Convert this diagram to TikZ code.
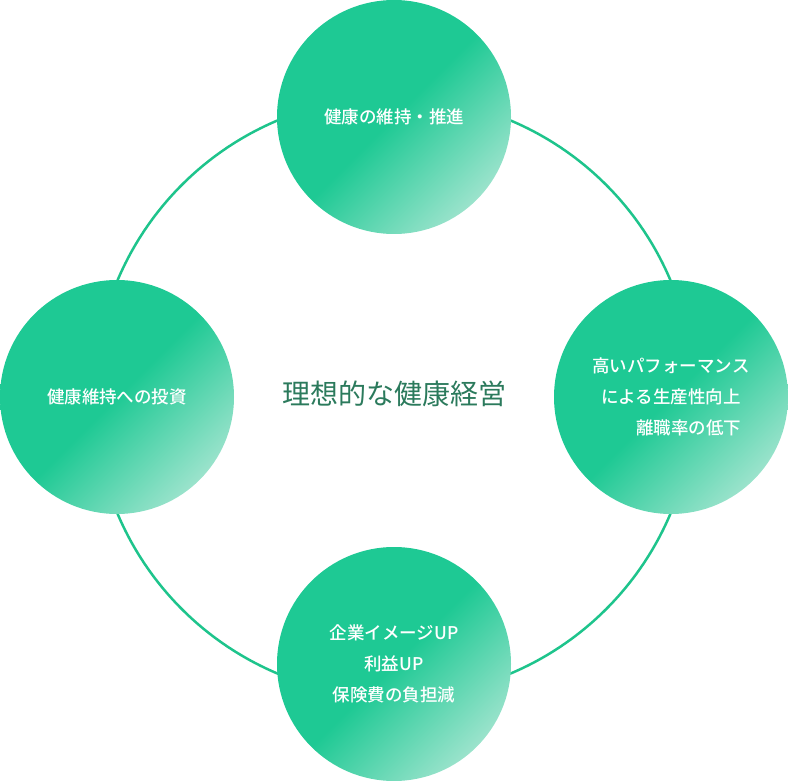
\documentclass[tikz,border=0pt]{standalone}
\usepackage{fontspec}
\setmainfont{Noto Sans CJK JP}[BoldFont={Noto Sans CJK JP Medium}]
\begin{document}
\begin{tikzpicture}[x=1pt,y=-1pt,
  bub/.style={circle,minimum size=234pt,inner sep=0pt,text=white,font=\fontsize{17.5}{31}\selectfont\bfseries,align=center}]
\definecolor{gA}{HTML}{1EC994}
\definecolor{gB}{HTML}{9BE3CC}
\definecolor{ring}{HTML}{1EC48C}
\definecolor{ctext}{HTML}{2B7A5C}
\useasboundingbox (0,0) rectangle (788,781);
\node[circle,minimum size=600pt,draw=ring,line width=2.5pt] (ring) at (394,397) {};
\foreach \n/\x/\y in {t/394/117,l/117/397,r/671/397,b/394/664}{
  \shade[shading=axis,top color=gA,bottom color=gB,middle color=gA,shading angle=45] (\x,\y) circle (117);
}
\node[bub] (t) at (394,117) {健康の維持・推進};
\node[bub] (l) at (117,397) {健康維持への投資};
\node[bub] (r) at (671,397) {高いパフォーマンス\\による生産性向上\\\hspace*{2em}離職率の低下};
\node[bub] (b) at (394,664) {企業イメージUP\\利益UP\\保険費の負担減};
\node[text=ctext,font=\fontsize{28}{32}\selectfont] (c) at (394,394) {理想的な健康経営};
\end{tikzpicture}
\end{document}
